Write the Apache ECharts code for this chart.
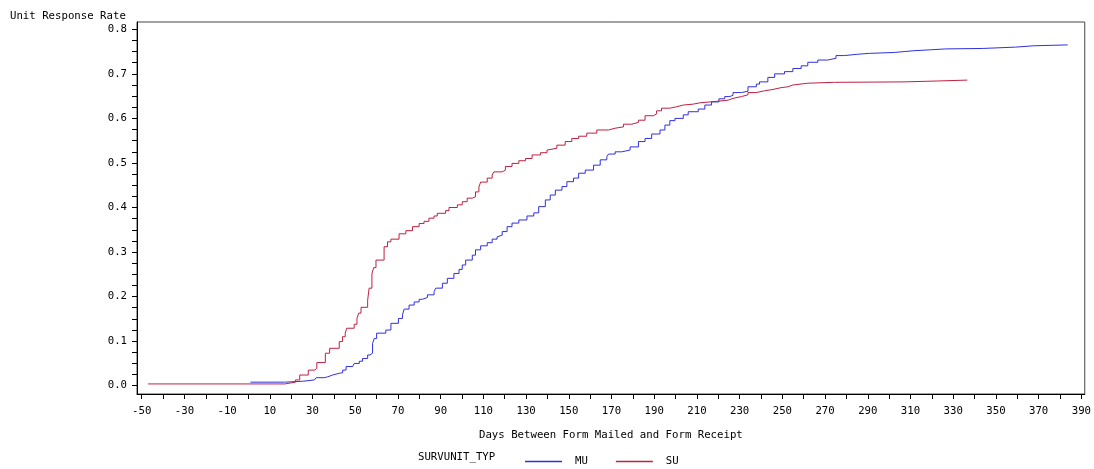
<!DOCTYPE html>
<html>
<head>
<meta charset="utf-8">
<script src="https://cdn.jsdelivr.net/npm/echarts@6/dist/echarts.min.js"></script>
<style>
  html, body { margin: 0; padding: 0; background: #fff; }
  #chart { width: 1094px; height: 469px; }
</style>
</head>
<body>
<div id="chart"></div>
<script>
// days between mailing and receipt, cumulative unit response rate
var muDays = [0.9, 16.9, 25.4, 30.9, 31.7, 35.5, 37.1, 39.4, 42.5, 44.1, 45.7, 48.8, 49.5, 51.9, 53.4, 55.8, 56.9,
  58.1, 58.9, 60.0, 64.3, 66.7, 70.2, 72.1, 72.9, 75.2, 77.6, 79.9, 81.4, 83.8, 86.9, 87.7, 90.8, 93.1, 96.2,
  98.6, 100.1, 101.7, 104.8, 106.3, 108.7, 111.8, 114.1, 116.4, 117.2, 118.8, 121.1, 123.4, 126.6, 130.4, 133.6,
  135.9, 139.0, 141.3, 143.7, 146.8, 149.1, 152.2, 154.6, 157.7, 161.6, 164.7, 167.8, 168.6, 171.7, 174.8, 178.7,
  182.6, 185.7, 188.8, 192.7, 195.0, 197.3, 199.7, 203.6, 205.9, 210.6, 213.7, 216.8, 220.3, 223.0, 225.4, 226.9,
  230.8, 233.9, 237.8, 239.3, 243.2, 246.4, 251.0, 254.9, 258.8, 261.9, 266.6, 271.3, 275.1, 279.0, 285.2, 290.7,
  302.4, 307.0, 311.7, 319.4, 326.4, 343.6, 359.1, 367.7, 383.6];
var muRate = [0.008, 0.010, 0.013, 0.015, 0.018, 0.020, 0.024, 0.028, 0.029, 0.035, 0.043, 0.046, 0.050, 0.055, 0.061, 0.069, 0.073,
  0.095, 0.106, 0.118, 0.125, 0.140, 0.151, 0.159, 0.172, 0.181, 0.188, 0.194, 0.198, 0.204, 0.211, 0.219, 0.230, 0.241, 0.252,
  0.261, 0.271, 0.282, 0.293, 0.305, 0.314, 0.321, 0.329, 0.334, 0.338, 0.346, 0.357, 0.365, 0.372, 0.381, 0.388,
  0.402, 0.417, 0.428, 0.439, 0.447, 0.458, 0.466, 0.477, 0.484, 0.495, 0.507, 0.514, 0.520, 0.525, 0.529, 0.536,
  0.548, 0.555, 0.565, 0.574, 0.585, 0.595, 0.600, 0.608, 0.615, 0.621, 0.630, 0.637, 0.644, 0.649, 0.652, 0.658,
  0.661, 0.671, 0.677, 0.682, 0.692, 0.700, 0.705, 0.712, 0.718, 0.726, 0.731, 0.735, 0.741, 0.744, 0.746, 0.748,
  0.750, 0.752, 0.754, 0.756, 0.757, 0.760, 0.763, 0.765, 0.765];

var suDays = [-47.0, 17.0, 22.0, 24.0, 28.0, 31.0, 32.0, 36.0, 38.0, 42.5, 44.0, 45.3, 46.0, 49.5, 50.8, 51.6, 52.7,
  55.8, 56.5, 57.8, 58.6, 59.7, 63.5, 65.1, 66.7, 70.5, 73.7, 76.8, 79.9, 82.2, 84.5, 86.9, 88.4, 92.3, 93.9,
  97.8, 100.1, 102.4, 104.8, 106.3, 107.9, 108.7, 111.8, 114.1, 114.9, 118.8, 120.3, 123.4, 126.6, 129.7, 132.8,
  136.7, 139.8, 140.6, 144.4, 148.3, 151.4, 154.6, 158.4, 163.1, 168.5, 171.7, 175.6, 179.4, 182.6, 185.7, 189.6,
  191.1, 193.4, 197.3, 200.4, 203.6, 208.2, 211.4, 220.7, 224.6, 226.9, 230.8, 233.9, 237.8, 241.7, 245.6, 249.4,
  252.6, 254.9, 261.9, 274.4, 307.0, 322.6, 336.6];
var suRate = [0.004, 0.008, 0.013, 0.024, 0.035, 0.039, 0.052, 0.073, 0.084, 0.099, 0.110, 0.118, 0.129, 0.138, 0.151, 0.163, 0.176,
  0.192, 0.219, 0.251, 0.265, 0.282, 0.312, 0.323, 0.329, 0.341, 0.348, 0.357, 0.364, 0.369, 0.376, 0.381, 0.387, 0.393, 0.400,
  0.406, 0.413, 0.421, 0.424, 0.435, 0.446, 0.457, 0.466, 0.473, 0.480, 0.484, 0.492, 0.499, 0.505, 0.510, 0.518,
  0.523, 0.529, 0.533, 0.540, 0.548, 0.555, 0.560, 0.567, 0.574, 0.578, 0.581, 0.587, 0.591, 0.596, 0.606, 0.610,
  0.617, 0.623, 0.626, 0.630, 0.632, 0.635, 0.639, 0.641, 0.645, 0.649, 0.653, 0.658, 0.662, 0.665, 0.669, 0.671,
  0.675, 0.679, 0.681, 0.682, 0.684, 0.686, 0.686];

// tick marks and labels
var xTicks = [];
for (var t = -50; t <= 390; t += 10) xTicks.push(t);
var xLabels = [-50, -30, -10, 10, 30, 50, 70, 90, 110, 130, 150, 170, 190, 210, 230, 250, 270, 290, 310, 330, 350, 370, 390];
var yTicks = [];
for (var k = 0; k <= 32; k++) yTicks.push(+(k * 0.025).toFixed(3));
var yLabels = [0, 0.1, 0.2, 0.3, 0.4, 0.5, 0.6, 0.7, 0.8];

function pairs(xs, ys) {
  return xs.map(function (x, i) { return [x, ys[i]]; });
}

var font = 'DejaVu Sans Mono';
var chart = echarts.init(document.getElementById('chart'));

var option = {
  animation: false,
  backgroundColor: '#fff',
  textStyle: { fontFamily: font },
  title: {
    text: 'Unit Response Rate',
    left: 10,
    top: 11,
    padding: 0,
    textStyle: { fontFamily: font, fontSize: 10.7, fontWeight: 'normal', color: '#000' }
  },
  graphic: [{
    type: 'text',
    left: 418,
    top: 452,
    style: { text: 'SURVUNIT_TYP', font: '10.7px "DejaVu Sans Mono"', fill: '#000' }
  }],
  legend: {
    left: 525,
    top: 456,
    icon: 'rect',
    itemWidth: 37,
    itemHeight: 1.5,
    itemGap: 28,
    padding: 0,
    textStyle: { fontFamily: font, fontSize: 10.7, color: '#000', padding: [0, 0, 0, 8] },
    data: ['MU', 'SU']
  },
  grid: {
    left: 137,
    right: 6,
    top: 22,
    bottom: 75,
    show: true,
    borderColor: '#444',
    borderWidth: 1
  },
  xAxis: {
    type: 'value',
    min: -52.2,
    max: 391.6,
    name: 'Days Between Form Mailed and Form Receipt',
    nameLocation: 'middle',
    nameGap: 36,
    nameTextStyle: { fontFamily: font, fontSize: 10.7, color: '#000' },
    axisLine: { onZero: false, lineStyle: { color: '#000', width: 1 } },
    axisTick: { customValues: xTicks, length: 5, lineStyle: { color: '#000' } },
    axisLabel: {
      customValues: xLabels,
      margin: 12,
      fontFamily: font,
      fontSize: 10.7,
      color: '#000',
      formatter: function (v) { return String(v); }
    },
    splitLine: { show: false }
  },
  yAxis: {
    type: 'value',
    min: -0.0186,
    max: 0.8164,
    axisLine: { show: true, onZero: false, lineStyle: { color: '#000', width: 1 } },
    axisTick: { show: true, customValues: yTicks, length: 5, lineStyle: { color: '#000' } },
    axisLabel: {
      customValues: yLabels,
      margin: 10,
      fontFamily: font,
      fontSize: 10.7,
      color: '#000',
      formatter: function (v) { return v.toFixed(1); }
    },
    splitLine: { show: false }
  },
  series: [
    {
      name: 'MU',
      type: 'line',
      step: 'end',
      symbol: 'none',
      color: '#3030e0',
      lineStyle: { width: 1, color: '#3030e0' },
      data: pairs(muDays, muRate)
    },
    {
      name: 'SU',
      type: 'line',
      step: 'end',
      symbol: 'none',
      color: '#c02040',
      lineStyle: { width: 1, color: '#c02040' },
      data: pairs(suDays, suRate)
    }
  ]
};

chart.setOption(option);
</script>
</body>
</html>
